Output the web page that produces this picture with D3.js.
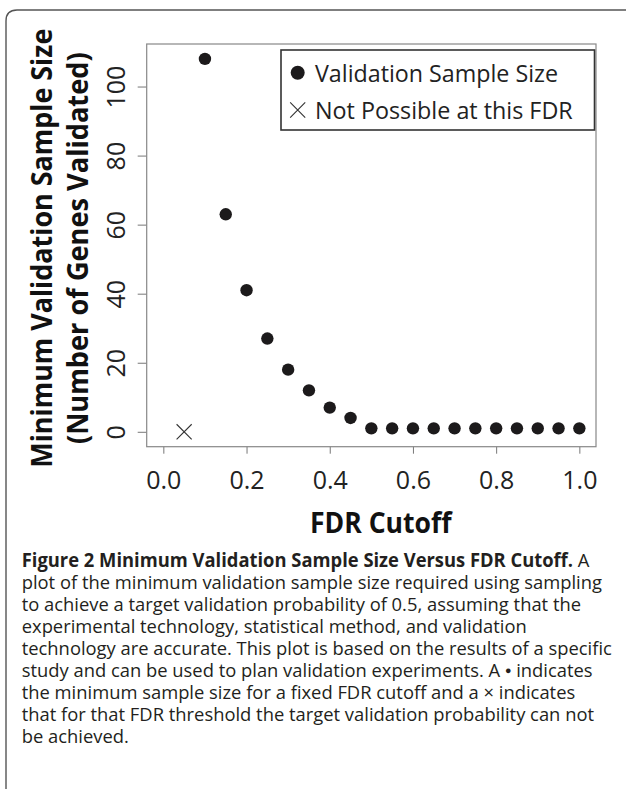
<!DOCTYPE html>
<html>
<head>
<meta charset="utf-8">
<script src="https://cdn.jsdelivr.net/npm/d3@7"></script>
<style>
  body { margin: 0; background: #fff; }
  text { font-family: "Open Sans", "Noto Sans", sans-serif; }
</style>
</head>
<body>
<div id="vis-div"></div>
<script>
'use strict'

// data
const fdrCutoffs  = [0.05, 0.10, 0.15, 0.20, 0.25, 0.30, 0.35, 0.40, 0.45, 0.50, 0.55, 0.60, 0.65, 0.70, 0.75, 0.80, 0.85, 0.90, 0.95, 1.00]
const sampleSizes = [0, 108, 63, 41, 27, 18, 12, 7, 4, 1, 1, 1, 1, 1, 1, 1, 1, 1, 1, 1]
const possible    = [false, true, true, true, true, true, true, true, true, true, true, true, true, true, true, true, true, true, true, true]
const xTicks = [0, 0.2, 0.4, 0.6, 0.8, 1.0]
const yTicks = [0, 20, 40, 60, 80, 100]
const legendLabels = ["Validation Sample Size", "Not Possible at this FDR"]
const yTitle = ["Minimum Validation Sample Size", "(Number of Genes Validated)"]
const xTitle = "FDR Cutoff"
const captionBold = "Figure 2 Minimum Validation Sample Size Versus FDR Cutoff."
const captionLines = [
  " A",
  "plot of the minimum validation sample size required using sampling",
  "to achieve a target validation probability of 0.5, assuming that the",
  "experimental technology, statistical method, and validation",
  "technology are accurate. This plot is based on the results of a specific",
  "study and can be used to plan validation experiments. A \u25cf indicates",
  "the minimum sample size for a fixed FDR cutoff and a \u00d7 indicates",
  "that for that FDR threshold the target validation probability can not",
  "be achieved."
]

function wrapper(){
  let width = 626, height = 789
  let data = fdrCutoffs.map((d, i) => ({x: d, y: sampleSizes[i], ok: possible[i]}))

  const svg = d3.select("#vis-div").append("svg")
    .attr("width", width)
    .attr("height", height)

  // outer frame of the figure panel
  svg.append("path")
    .attr("d", "M630,10 L17,10 Q6,10 6,21 L6,795")
    .attr("fill", "none")
    .attr("stroke", "#555")
    .attr("stroke-width", 1.4)

  const plot = {left: 146.7, right: 596, top: 44, bottom: 446.7}

  const x = d3.scaleLinear().domain([-0.04, 1.04]).range([plot.left, plot.right])
  const y = d3.scaleLinear().domain([-4.32, 112.32]).range([plot.bottom, plot.top])

  // x axis
  const xAxis = svg.append("g")
    .attr("transform", "translate(0," + plot.bottom + ")")
    .call(d3.axisBottom(x).tickValues(xTicks).tickSize(7).tickSizeOuter(0).tickFormat(d3.format(".1f")))
  xAxis.select(".domain").remove()
  xAxis.selectAll("line").attr("stroke", "#777")
  xAxis.selectAll("text")
    .attr("dy", null)
    .attr("y", 42.5)
    .attr("fill", "#222")
    .style("font-size", "25px")
    .style("font-family", "'Open Sans', sans-serif")

  // y axis, labels rotated like R's default las=0
  const yAxis = svg.append("g")
    .attr("transform", "translate(" + plot.left + ",0)")
    .call(d3.axisLeft(y).tickValues(yTicks).tickSize(9).tickSizeOuter(0))
  yAxis.select(".domain").remove()
  yAxis.selectAll("line").attr("stroke", "#777")
  yAxis.selectAll("text")
    .attr("dy", null)
    .attr("x", 0)
    .attr("y", -21.7)
    .attr("transform", "rotate(-90)")
    .attr("text-anchor", "middle")
    .attr("fill", "#222")
    .style("font-size", "25px")
    .style("font-family", "'Open Sans', sans-serif")

  // plot box
  svg.append("rect")
    .attr("x", plot.left)
    .attr("y", plot.top)
    .attr("width", plot.right - plot.left)
    .attr("height", plot.bottom - plot.top)
    .attr("fill", "none")
    .attr("stroke", "#888")
    .attr("stroke-width", 1.2)

  // points
  svg.append("g").selectAll("circle")
    .data(data.filter(d => d.ok))
    .enter().append("circle")
      .attr("cx", d => x(d.x))
      .attr("cy", d => y(d.y))
      .attr("r", 6.2)
      .attr("fill", "#1c1a1b")

  const cross = d3.symbol().type(d3.symbolX).size(150)
  svg.append("g").selectAll("path")
    .data(data.filter(d => !d.ok))
    .enter().append("path")
      .attr("d", cross)
      .attr("transform", d => "translate(" + x(d.x) + "," + y(d.y) + ")")
      .attr("fill", "none")
      .attr("stroke", "#333")
      .attr("stroke-width", 1.1)

  // legend
  const legend = svg.append("g")
  legend.append("rect")
    .attr("x", 281).attr("y", 50)
    .attr("width", 313.5).attr("height", 80)
    .attr("fill", "#fff")
    .attr("stroke", "#333")
    .attr("stroke-width", 1.6)
  legend.append("circle")
    .attr("cx", 297.7).attr("cy", 72.7).attr("r", 7)
    .attr("fill", "#1c1a1b")
  legend.append("path")
    .attr("d", cross)
    .attr("transform", "translate(297.7,110)")
    .attr("fill", "none")
    .attr("stroke", "#333")
    .attr("stroke-width", 1.1)
  const legendWidths = [243, 257.7]
  legend.selectAll("text")
    .data(legendLabels)
    .enter().append("text")
      .attr("x", 315)
      .attr("y", (d, i) => 81.7 + i * 37.6)
      .attr("textLength", (d, i) => legendWidths[i])
      .attr("lengthAdjust", "spacingAndGlyphs")
      .attr("fill", "#222")
      .style("font-size", "23px")
      .text(d => d)

  // axis titles
  const yTitleWidths = [439, 391.6]
  svg.append("g")
    .attr("transform", "translate(0,248.2) rotate(-90)")
    .selectAll("text")
    .data(yTitle)
    .enter().append("text")
      .attr("x", 0)
      .attr("y", (d, i) => 52 + i * 36)
      .attr("text-anchor", "middle")
      .attr("textLength", (d, i) => yTitleWidths[i])
      .attr("lengthAdjust", "spacingAndGlyphs")
      .attr("fill", "#111")
      .style("font-size", "28px")
      .style("font-weight", "bold")
      .text(d => d)

  svg.append("text")
    .attr("x", 380.8)
    .attr("y", 533)
    .attr("text-anchor", "middle")
    .attr("textLength", 141.7)
    .attr("lengthAdjust", "spacingAndGlyphs")
    .attr("fill", "#111")
    .style("font-size", "28px")
    .style("font-weight", "bold")
    .text(xTitle)

  // caption
  const cap = svg.append("g")
  const capText = cap.selectAll("text")
    .data(captionLines)
    .enter().append("text")
      .attr("x", 0)
      .attr("y", (d, i) => 567 + i * 22)
      .attr("fill", "#231f20")
      .style("font-size", "18.8px")
  capText.filter((d, i) => i == 0).append("tspan")
    .style("font-weight", "bold")
    .text(captionBold)
  // split on the bullet so it can be drawn smaller, other lines have one piece
  capText.each(function(d){
    let parts = d.split("\u25cf")
    let t = d3.select(this)
    t.append("tspan").text(parts[0])
    if (parts.length > 1){
      t.append("tspan").style("font-size", "11px").attr("dy", -2.5).text("\u25cf")
      t.append("tspan").attr("dy", 2.5).text(parts[1])
    }
  })

  let refWidth = capText.filter((d, i) => i == 1).node().getComputedTextLength()
  let sx = 580 / refWidth
  cap.attr("transform", "translate(21.7,0) scale(" + sx + ",1)")
}
wrapper()
</script>
</body>
</html>
